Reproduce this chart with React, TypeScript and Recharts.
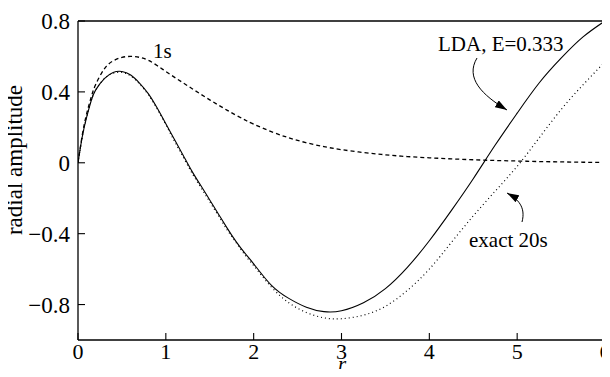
import { LineChart, Line, XAxis, YAxis, ReferenceLine } from "recharts";

// radial grid (bohr) shared by all three curves
const radius = [
  0, 0.05, 0.1, 0.15, 0.2, 0.3, 0.4, 0.5, 0.6, 0.7, 0.8, 0.9, 1.0, 1.1, 1.2, 1.3,
  1.4, 1.5, 1.6, 1.7, 1.8, 1.9, 2.0, 2.2, 2.4, 2.6, 2.8, 3.0, 3.25, 3.5, 3.75,
  4.0, 4.25, 4.5, 4.75, 5.0, 5.25, 5.5, 5.75, 6.0,
];

// LDA continuum state, E=0.333
const ldaWave = [
  0, 0.15, 0.26, 0.35, 0.41, 0.475, 0.51, 0.515, 0.495, 0.45, 0.39, 0.31, 0.22,
  0.13, 0.04, -0.05, -0.13, -0.21, -0.29, -0.37, -0.445, -0.51, -0.57, -0.69,
  -0.765, -0.815, -0.84, -0.835, -0.79, -0.71, -0.59, -0.44, -0.27, -0.09, 0.1,
  0.28, 0.45, 0.59, 0.71, 0.8,
];

// exact 20s orbital
const exactWave = [
  0, 0.15, 0.26, 0.35, 0.41, 0.475, 0.505, 0.51, 0.49, 0.445, 0.385, 0.305,
  0.215, 0.12, 0.03, -0.06, -0.14, -0.22, -0.3, -0.38, -0.45, -0.52, -0.58, -0.7,
  -0.79, -0.845, -0.875, -0.88, -0.86, -0.81, -0.72, -0.6, -0.45, -0.3, -0.16,
  -0.02, 0.14, 0.3, 0.44, 0.57,
];

// 1s core orbital
const coreWave = [
  0, 0.16, 0.28, 0.37, 0.44, 0.53, 0.575, 0.595, 0.6, 0.595, 0.578, 0.549,
  0.515, 0.482, 0.45, 0.418, 0.386, 0.355, 0.325, 0.296, 0.268, 0.242, 0.218,
  0.176, 0.141, 0.113, 0.091, 0.074, 0.058, 0.045, 0.035, 0.028, 0.022, 0.017,
  0.013, 0.01, 0.007, 0.005, 0.003, 0.002,
];

const xTicks = [0, 1, 2, 3, 4, 5, 6];
const yTicks = [-0.8, -0.4, 0, 0.4, 0.8];

const rows = radius.map((r, i) => ({
  r,
  lda: ldaWave[i],
  exact: exactWave[i],
  core: coreWave[i],
}));

const serif = "'Liberation Serif', 'Times New Roman', serif";
const tickStyle = { fill: "#000", fontSize: 22, fontFamily: serif };
const axisStroke = { stroke: "#000", strokeWidth: 1.3 };

const fmtY = (v: number) => (v < 0 ? `\u2212${Math.abs(v)}` : `${v}`);

export default function App() {
  return (
    <div style={{ position: "relative", width: 610, height: 377, margin: -8, background: "#fff" }}>
      <LineChart
        width={610}
        height={377}
        data={rows}
        margin={{ top: 21, right: 5, bottom: 0, left: 0 }}
      >
        <XAxis
          type="number"
          dataKey="r"
          domain={[0, 6]}
          ticks={xTicks}
          interval={0}
          allowDataOverflow
          height={37}
          tickSize={-7}
          tickMargin={10}
          axisLine={axisStroke}
          tickLine={{ stroke: "#000", strokeWidth: 1.1 }}
          tick={tickStyle}
        />
        <YAxis
          type="number"
          domain={[-1, 0.8]}
          ticks={yTicks}
          interval={0}
          allowDataOverflow
          width={78}
          tickSize={-7}
          tickMargin={15}
          tickFormatter={fmtY}
          axisLine={axisStroke}
          tickLine={{ stroke: "#000", strokeWidth: 1.1 }}
          tick={{ ...tickStyle, fontSize: 23 }}
        />
        <ReferenceLine y={0.8} stroke="#000" strokeWidth={1.3} />
        <ReferenceLine x={6} stroke="#000" strokeWidth={1.3} />
        <Line
          dataKey="core"
          type="natural"
          stroke="#000"
          strokeWidth={1.3}
          strokeDasharray="4 3"
          dot={false}
          isAnimationActive={false}
        />
        <Line
          dataKey="exact"
          type="natural"
          stroke="#000"
          strokeWidth={1.2}
          strokeDasharray="1 3"
          dot={false}
          isAnimationActive={false}
        />
        <Line
          dataKey="lda"
          type="natural"
          stroke="#000"
          strokeWidth={1.1}
          dot={false}
          isAnimationActive={false}
        />
      </LineChart>

      {/* axis titles and curve annotations */}
      <svg
        width={610}
        height={377}
        style={{ position: "absolute", left: 0, top: 0, pointerEvents: "none" }}
        fontFamily={serif}
      >
        <defs>
          <marker
            id="head"
            viewBox="0 0 12 8"
            refX={12}
            refY={4}
            markerWidth={12}
            markerHeight={8}
            markerUnits="userSpaceOnUse"
            orient="auto"
          >
            <path d="M0,0 L12,4 L0,8 Z" fill="#000" />
          </marker>
        </defs>
        <text transform="translate(22,160) rotate(-90)" textAnchor="middle" fontSize={23}>
          radial amplitude
        </text>
        <text x={342} y={371} textAnchor="middle" fontSize={21} fontStyle="italic">
          r
        </text>
        <text x={153} y={58} fontSize={21}>
          1s
        </text>
        <text x={438} y={51} fontSize={21}>
          LDA, E=0.333
        </text>
        <path d="M477,58 C465,78 482,95 507,110" fill="none" stroke="#000" strokeWidth={1} markerEnd="url(#head)" />
        <text x={469} y={247} fontSize={21}>
          exact 20s
        </text>
        <path d="M522,222 C526,207 518,199 507,193" fill="none" stroke="#000" strokeWidth={1} markerEnd="url(#head)" />
      </svg>
    </div>
  );
}
